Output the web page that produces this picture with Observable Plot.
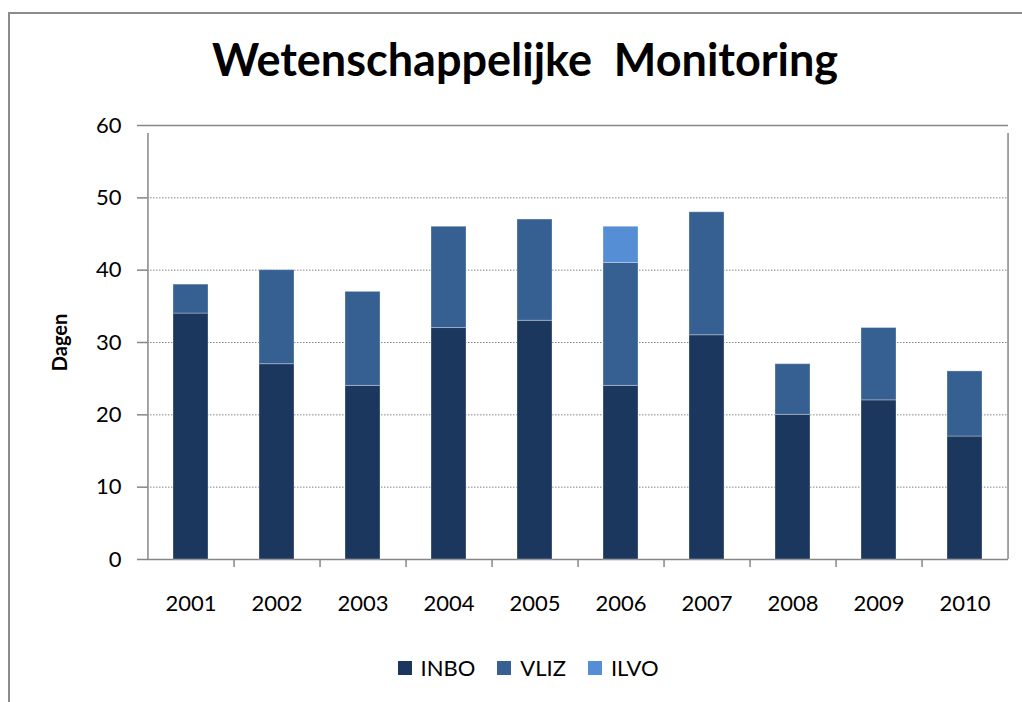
<!DOCTYPE html>
<html>
<head>
<meta charset="utf-8">
<script src="https://cdn.jsdelivr.net/npm/d3@7"></script>
<script src="https://cdn.jsdelivr.net/npm/@observablehq/plot@0.6"></script>
<style>
  html, body { margin: 0; padding: 0; background: #fff; overflow: hidden; }
  #wrap { position: relative; width: 1022px; height: 702px; overflow: hidden; font-family: Lato, "Open Sans", sans-serif; }
  #border { position: absolute; left: 8px; top: 12px; width: 1100px; height: 800px; border: 2px solid #8c8c8c; box-sizing: border-box; }
  #title { position: absolute; left: 0; width: 1050px; top: 32px; text-align: center; font-weight: bold; font-size: 45px; color: #000; white-space: pre; }
  #chart { position: absolute; left: 0; top: 0; }
  #legend { position: absolute; top: 654px; left: 0; width: 1056px; display: flex; justify-content: center; align-items: center; font-size: 22px; color: #000; }
  .item { display: flex; align-items: center; margin: 0 11px; }
  .sw { width: 14px; height: 14px; margin-right: 9px; }
</style>
</head>
<body>
<div id="wrap">
  <div id="border"></div>
  <div id="title"></div>
  <div id="chart"></div>
  <div id="legend"></div>
</div>
<script>
const titleText = "Wetenschappelijke  Monitoring";
const yLabel = "Dagen";
const years = ["2001","2002","2003","2004","2005","2006","2007","2008","2009","2010"];
const seriesNames = ["INBO", "VLIZ", "ILVO"];
const seriesColors = ["#1b375e", "#376092", "#558ed5"];
const inbo = [34, 27, 24, 32, 33, 24, 31, 20, 22, 17];
const vliz = [4, 13, 13, 14, 14, 17, 17, 7, 10, 9];
const ilvo = [0, 0, 0, 0, 0, 5, 0, 0, 0, 0];
const yTicks = [0, 10, 20, 30, 40, 50, 60];

const seriesValues = [inbo, vliz, ilvo];
const rows = [];
seriesNames.forEach((s, si) => years.forEach((y, i) => {
  if (seriesValues[si][i] > 0) rows.push({year: y, series: s, value: seriesValues[si][i]});
}));

const W = 1022, H = 620;
const mL = 147, mR = 14, mT = 125, mB = 61;
const step = (W - mL - mR) / years.length;

// category boundary ticks (between categories), plus outer frame sides
const bounds = years.map((y, i) => ({year: y, dx: step / 2, top: i === years.length - 1 ? 60 : 0}));
bounds.unshift({year: years[0], dx: -step / 2, top: 60});

const gray = "#868686";

const plot = Plot.plot({
  width: W, height: H,
  marginLeft: mL, marginRight: mR, marginTop: mT, marginBottom: mB,
  style: {fontFamily: "Lato, 'Open Sans', sans-serif", fontSize: "22px", color: "#000", background: "transparent"},
  x: {domain: years, paddingInner: 0.59, paddingOuter: 0.295},
  y: {domain: [0, 60]},
  color: {domain: seriesNames, range: seriesColors},
  marks: [
    Plot.gridY(yTicks.filter(t => t > 0 && t < 60), {stroke: gray, strokeOpacity: 1, strokeWidth: 1, strokeDasharray: "1.5,1.5"}),
    Plot.ruleY([60], {stroke: gray, strokeWidth: 1.5}),
    Plot.ruleY([0], {stroke: gray, strokeWidth: 1.5}),
    ...bounds.map(b => Plot.ruleX([b.year], {x: d => d, dx: b.dx, y1: 0, y2: b.top, insetBottom: -8, stroke: gray, strokeWidth: 1.5})),
    Plot.barY(rows, {x: "year", y: "value", fill: "series", order: seriesNames, stroke: "#ffffff", strokeOpacity: 0.3, strokeWidth: 1}),
    Plot.axisY({ticks: yTicks, tickSize: 10, tickPadding: 16, stroke: gray, strokeWidth: 1.5, fontSize: 22,
      label: yLabel, labelAnchor: "center", labelArrow: "none", labelOffset: 95}),
    Plot.axisX({tickSize: 0, tickPadding: 36, fontSize: 22, label: null})
  ]
});
document.getElementById("chart").appendChild(plot);

// style y label bold
plot.querySelectorAll("text").forEach(t => {
  if (t.textContent === yLabel) { t.setAttribute("font-weight", "bold"); t.setAttribute("font-size", "20"); }
});

document.getElementById("title").textContent = titleText;
const lg = document.getElementById("legend");
seriesNames.forEach((s, i) => {
  const it = document.createElement("div"); it.className = "item";
  const sw = document.createElement("div"); sw.className = "sw"; sw.style.background = seriesColors[i];
  const tx = document.createElement("span"); tx.textContent = s;
  it.appendChild(sw); it.appendChild(tx); lg.appendChild(it);
});
</script>
</body>
</html>
